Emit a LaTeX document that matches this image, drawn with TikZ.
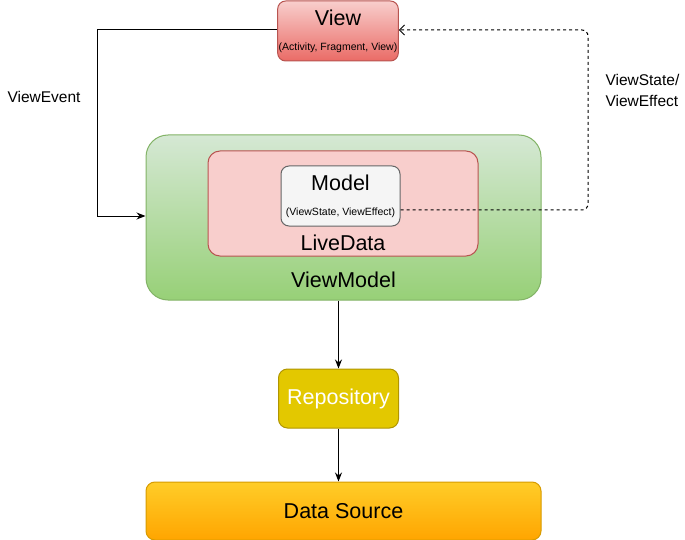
\documentclass[tikz,border=0pt]{standalone}
\usepackage{fontspec}
\setmainfont{Liberation Sans}
\usetikzlibrary{arrows.meta, positioning}
\definecolor{viewtop}{HTML}{F8CECC}
\definecolor{viewbot}{HTML}{EA6B66}
\definecolor{viewline}{HTML}{B85450}
\definecolor{vmtop}{HTML}{D5E8D4}
\definecolor{vmbot}{HTML}{97D077}
\definecolor{vmline}{HTML}{82B366}
\definecolor{ldfill}{HTML}{F8CECC}
\definecolor{modelfill}{HTML}{F5F5F5}
\definecolor{modelline}{HTML}{666666}
\definecolor{repofill}{HTML}{E3C800}
\definecolor{repoline}{HTML}{B09500}
\definecolor{dstop}{HTML}{FFCD28}
\definecolor{dsbot}{HTML}{FFA500}
\definecolor{dsline}{HTML}{D79B00}
\tikzset{
  bigtxt/.style={font=\fontsize{21.5}{25}\selectfont},
  box/.style={rectangle, line width=1pt, align=center},
  viewbox/.style={box, rounded corners=8pt, draw=viewline, inner sep=1pt,
    top color=viewtop, bottom color=viewbot,
    minimum width=120pt, minimum height=60pt},
  vmbox/.style={box, rounded corners=22pt, draw=vmline,
    top color=vmtop, bottom color=vmbot,
    minimum width=395pt, minimum height=165pt},
  ldbox/.style={box, rounded corners=12pt, draw=viewline, fill=ldfill,
    minimum width=270pt, minimum height=105pt},
  modelbox/.style={box, rounded corners=8pt, draw=modelline, fill=modelfill,
    inner sep=1pt, minimum width=119pt, minimum height=60pt},
  repobox/.style={box, rounded corners=9pt, draw=repoline, fill=repofill,
    text=white, bigtxt, minimum width=120pt, minimum height=59pt},
  dsbox/.style={box, rounded corners=9pt, draw=dsline,
    top color=dstop, bottom color=dsbot, bigtxt,
    minimum width=395pt, minimum height=58pt},
  sub/.style={font=\fontsize{10.5}{12}\selectfont},
  side/.style={font=\fontsize{15.5}{21}\selectfont, align=left},
  ar/.style={-{Stealth[length=9pt, width=7pt]}, line width=1pt},
  dar/.style={-{Straight Barb[length=5pt, width=10pt]}, line width=1pt,
    dash pattern=on 3pt off 3pt},
}
\begin{document}
\begin{tikzpicture}[x=1pt, y=-1pt]
  \useasboundingbox (0,0) rectangle (685,540);

  \node[viewbox, sub] (view) at (338,31)
    {{\fontsize{21.5}{25}\selectfont View}\\[13pt](Activity, Fragment, View)};

  \node[vmbox, label={[bigtxt, anchor=south, yshift=9pt]south:ViewModel}]
    (vm) at (343.5,217.5) {};
  \node[ldbox, label={[bigtxt, anchor=south, yshift=2pt]south:LiveData}]
    (ld) at (343,203.5) {};
  \node[modelbox, sub] (model) at (340.5,196)
    {{\fontsize{21.5}{25}\selectfont Model}\\[13pt](ViewState, ViewEffect)};

  \node[repobox, below=68pt of vm, xshift=-5pt] (repo) {Repository};
  \node[dsbox, below=53pt of repo, xshift=5pt] (ds) {Data Source};

  \coordinate (evtop) at (97,30);
  \coordinate (evbot) at (97,216);
  \coordinate (stbot) at (588,210);
  \coordinate (sttop) at (588,30);

  \node[side, anchor=west] (evlabel) at (4,97) {ViewEvent};
  \node[side, anchor=west] (stlabel) at (602,90) {ViewState/\\ViewEffect};

  \draw[ar] (view.west |- evtop) -- (evtop) -- (evbot) -- (evbot -| vm.west);
  \draw[dar, rounded corners=6pt] (model.east |- stbot) -- (stbot) -- (sttop) -- (view.east |- sttop);
  \draw[ar] (repo.north |- vm.south) -- (repo.north);
  \draw[ar] (repo.south) -- (repo.south |- ds.north);
\end{tikzpicture}
\end{document}
